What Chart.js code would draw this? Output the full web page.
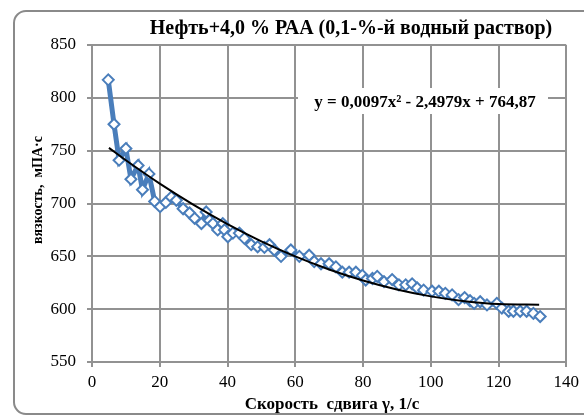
<!DOCTYPE html>
<html>
<head>
<meta charset="utf-8">
<script src="https://cdn.jsdelivr.net/npm/chart.js@4/dist/chart.umd.min.js"></script>
<style>
  html, body { margin: 0; padding: 0; background: #fff; }
  #wrap { width: 584px; height: 418px; position: relative; }
</style>
</head>
<body>
<div id="wrap"><canvas id="chart"></canvas></div>
<script>
// shear rate, 1/s
const shearRate = [
  4.8, 6.5, 8.0, 10.0, 11.5, 13.6, 14.9, 16.8, 18.5, 20.1,
  21.8, 23.4, 24.9, 26.9, 28.8, 30.3, 32.3, 33.7, 34.7, 35.7,
  37.1, 38.6, 39.1, 40.1, 41.6, 43.5, 45.0, 47.0, 48.9, 50.9,
  52.4, 53.8, 55.8, 58.7, 61.2, 64.1, 65.6, 67.6, 70.0, 72.0,
  73.9, 75.9, 77.9, 79.8, 80.8, 82.8, 84.2, 86.2, 88.6, 90.6,
  92.6, 94.5, 96.0, 97.9, 100.4, 102.4, 104.3, 106.3, 108.2, 110.0,
  111.6, 112.8, 114.6, 116.6, 119.5, 121.0, 123.0, 124.4, 126.4, 128.3,
  130.3, 132.3
];
// viscosity, mPa*s
const viscosity = [
  817, 775, 741, 752, 723, 736, 713, 728, 702, 697,
  701, 706, 703, 695, 691, 686, 681, 692, 684, 681,
  675, 681, 675, 668.5, 672, 672, 667, 661, 659, 658.5,
  661, 656, 650, 656, 650, 651, 645, 643, 643, 640,
  635, 635, 635, 632, 627.6, 629, 631, 626, 628, 623,
  623, 624, 620, 618, 617, 617, 615, 613.5, 609, 611,
  608, 605.5, 607, 604, 605.5, 601, 598, 598, 598, 598,
  596, 593
];
// polynomial trend line
const trendX = [5, 10, 20, 30, 40, 50, 60, 70, 80, 90, 100, 110, 120, 132];
const trendY = [752.6, 740.9, 718.8, 698.7, 680.5, 664.2, 649.9, 637.6, 627.1, 618.6, 612.1, 607.5, 604.8, 604.2];

const xTicks = [0, 20, 40, 60, 80, 100, 120, 140];
const yTicks = [550, 600, 650, 700, 750, 800, 850];

const chartTitle = "Нефть+4,0 % РАА (0,1-%-й водный раствор)";
const equation = "y = 0,0097x² - 2,4979x + 764,87";
const xTitle = "Скорость  сдвига γ, 1/с";
const yTitle = "вязкость,  мПА·с";

const serif = "'Liberation Serif', 'Times New Roman', serif";
const gridColor = "#929292";
const blue = "rgb(74, 126, 187)";

const decor = {
  id: "decor",
  beforeDraw(chart) {
    const ctx = chart.ctx;
    ctx.save();
    ctx.fillStyle = "#fff";
    ctx.fillRect(0, 0, chart.width, chart.height);
    // rounded outer frame
    ctx.strokeStyle = "#8a8a8a";
    ctx.lineWidth = 2;
    ctx.beginPath();
    ctx.roundRect(14, 11, 590, 403, 12);
    ctx.stroke();
    ctx.restore();
  },
  afterDatasetsDraw(chart) {
    const ctx = chart.ctx;
    const area = chart.chartArea;
    ctx.save();
    ctx.fillStyle = "#000";

    // title
    ctx.font = "bold 20px " + serif;
    ctx.textAlign = "right";
    ctx.textBaseline = "middle";
    ctx.fillText(chartTitle, area.right - 14, 29);

    // equation label with white box
    ctx.fillStyle = "#fff";
    ctx.fillRect(298, 88, 250, 26);
    ctx.fillStyle = "#000";
    ctx.font = "bold 17px " + serif;
    ctx.textAlign = "center";
    ctx.fillText(equation, 425, 103);

    // x title
    ctx.font = "bold 17px " + serif;
    ctx.fillText(xTitle, 332, 405);

    // y title
    ctx.translate(38, 190);
    ctx.rotate(-Math.PI / 2);
    ctx.font = "bold 14px " + serif;
    ctx.fillText(yTitle, 0, 0);
    ctx.restore();
  }
};

new Chart(document.getElementById("chart"), {
  type: "line",
  data: {
    datasets: [
      {
        label: "trend",
        data: trendX.map((x, i) => ({ x, y: trendY[i] })),
        borderColor: "#000",
        borderWidth: 2,
        pointRadius: 0,
        cubicInterpolationMode: "monotone",
        fill: false
      },
      {
        label: "viscosity",
        data: shearRate.map((x, i) => ({ x, y: viscosity[i] })),
        borderColor: blue,
        borderWidth: 5,
        pointStyle: "rectRot",
        pointRadius: 5.5,
        pointBorderWidth: 2,
        pointBorderColor: blue,
        pointBackgroundColor: "#fff",
        tension: 0,
        fill: false
      }
    ]
  },
  options: {
    responsive: true,
    maintainAspectRatio: false,
    animation: false,
    devicePixelRatio: 1,
    layout: { padding: { left: 0, right: 16, top: 45, bottom: 0 } },
    plugins: {
      legend: { display: false },
      tooltip: { enabled: false },
      title: { display: false }
    },
    scales: {
      x: {
        type: "linear",
        min: xTicks[0],
        max: xTicks[xTicks.length - 1],
        afterBuildTicks: (s) => { s.ticks = xTicks.map((v) => ({ value: v })); },
        afterFit: (s) => { s.height = 56; },
        grid: { color: gridColor, lineWidth: 2, tickLength: 5, drawTicks: true },
        border: { color: gridColor, width: 2 },
        ticks: {
          color: "#000",
          padding: 5,
          maxRotation: 0,
          font: { family: serif, size: 17 }
        }
      },
      y: {
        type: "linear",
        min: yTicks[0],
        max: yTicks[yTicks.length - 1],
        afterBuildTicks: (s) => { s.ticks = yTicks.map((v) => ({ value: v })); },
        afterFit: (s) => { s.width = 92; },
        grid: { color: gridColor, lineWidth: 2, tickLength: 5, drawTicks: true },
        border: { color: gridColor, width: 2 },
        ticks: {
          color: "#000",
          padding: 11,
          font: { family: serif, size: 17 }
        }
      }
    }
  },
  plugins: [decor]
});
</script>
</body>
</html>
